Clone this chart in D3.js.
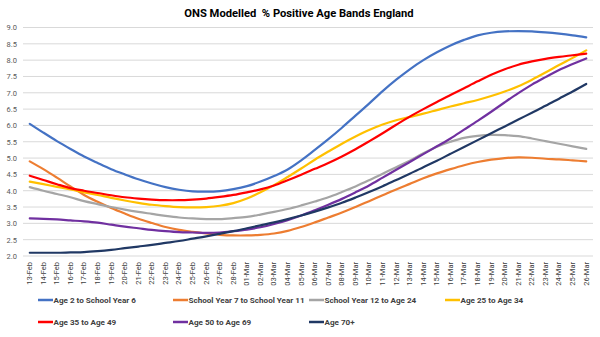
<!DOCTYPE html>
<html>
<head>
  <meta charset="UTF-8" />
  <title>ONS Modelled % Positive Age Bands England</title>
  <script src="https://d3js.org/d3.v7.min.js"></script>
  <style>
    body { margin: 0; background: #fff; }
    text { font-family: Roboto, "Open Sans", sans-serif; }
  </style>
</head>
<body>
  <div id="chart"></div>

  <script>
    // dates on the x axis (13-Feb .. 26-Mar)
    const dates = ["13-Feb","14-Feb","15-Feb","16-Feb","17-Feb","18-Feb","19-Feb","20-Feb","21-Feb","22-Feb",
      "23-Feb","24-Feb","25-Feb","26-Feb","27-Feb","28-Feb","01-Mar","02-Mar","03-Mar","04-Mar",
      "05-Mar","06-Mar","07-Mar","08-Mar","09-Mar","10-Mar","11-Mar","12-Mar","13-Mar","14-Mar",
      "15-Mar","16-Mar","17-Mar","18-Mar","19-Mar","20-Mar","21-Mar","22-Mar","23-Mar","24-Mar",
      "25-Mar","26-Mar"];

    const yTicks = [2.0, 2.5, 3.0, 3.5, 4.0, 4.5, 5.0, 5.5, 6.0, 6.5, 7.0, 7.5, 8.0, 8.5, 9.0];

    const seriesNames = ["Age 2 to School Year 6", "School Year 7 to School Year 11", "School Year 12 to Age 24",
      "Age 25 to Age 34", "Age 35 to Age 49", "Age 50 to Age 69", "Age 70+"];

    const age2toSY6 = [6.05,5.78,5.52,5.28,5.05,4.85,4.66,4.50,4.35,4.22,4.11,4.03,3.98,3.97,3.99,4.05,4.14,4.28,4.45,4.65,
      4.93,5.25,5.58,5.93,6.30,6.67,7.05,7.40,7.72,8.00,8.24,8.45,8.62,8.76,8.84,8.88,8.89,8.88,8.85,8.81,8.76,8.70];
    const sy7toSY11 = [4.90,4.66,4.40,4.13,3.87,3.66,3.47,3.30,3.14,3.01,2.89,2.80,2.74,2.69,2.65,2.63,2.63,2.65,2.69,2.77,
      2.89,3.03,3.18,3.33,3.50,3.68,3.86,4.04,4.21,4.38,4.53,4.66,4.78,4.88,4.95,5.00,5.02,5.01,4.98,4.96,4.93,4.90];
    const sy12to24 = [4.11,4.00,3.90,3.80,3.68,3.59,3.50,3.42,3.35,3.29,3.23,3.18,3.15,3.13,3.13,3.16,3.20,3.27,3.35,3.44,
      3.55,3.67,3.80,3.96,4.13,4.32,4.52,4.72,4.92,5.15,5.35,5.50,5.62,5.68,5.71,5.70,5.67,5.60,5.52,5.44,5.36,5.28];
    const age25to34 = [4.28,4.20,4.12,4.04,3.95,3.87,3.78,3.70,3.63,3.57,3.53,3.50,3.49,3.50,3.54,3.62,3.76,3.95,4.17,4.42,
      4.68,4.95,5.20,5.44,5.66,5.86,6.03,6.16,6.26,6.36,6.47,6.58,6.68,6.78,6.90,7.04,7.20,7.40,7.62,7.85,8.07,8.30];
    const age35to49 = [4.46,4.33,4.20,4.08,4.00,3.93,3.86,3.80,3.76,3.73,3.71,3.71,3.73,3.76,3.81,3.87,3.95,4.04,4.16,4.32,
      4.49,4.67,4.85,5.05,5.27,5.51,5.76,6.02,6.27,6.50,6.72,6.93,7.14,7.35,7.55,7.72,7.86,7.96,8.04,8.10,8.15,8.20];
    const age50to69 = [3.15,3.14,3.12,3.09,3.06,3.02,2.96,2.90,2.85,2.80,2.76,2.73,2.72,2.71,2.72,2.76,2.81,2.88,2.98,3.10,
      3.24,3.40,3.57,3.75,3.95,4.16,4.40,4.64,4.88,5.12,5.36,5.60,5.87,6.14,6.42,6.71,6.99,7.25,7.48,7.70,7.88,8.05];
    const age70plus = [2.10,2.10,2.10,2.11,2.12,2.15,2.19,2.24,2.29,2.34,2.40,2.46,2.53,2.60,2.68,2.76,2.85,2.94,3.03,3.13,
      3.24,3.36,3.49,3.63,3.79,3.96,4.14,4.33,4.52,4.72,4.92,5.13,5.34,5.55,5.76,5.97,6.18,6.39,6.60,6.82,7.04,7.27];

    const colors = ["#4472C4", "#ED7D31", "#A5A5A5", "#FFC000", "#FF0000", "#7030A0", "#203864"];

    const series = [age2toSY6, sy7toSY11, sy12to24, age25to34, age35to49, age50to69, age70plus]
      .map((vals, i) => ({ name: seriesNames[i], color: colors[i], values: vals }));

    drawChart();

    function drawChart() {
      const width = 600, height = 337;
      const svg = d3.select("#chart")
        .append("svg")
        .attr("width", width)
        .attr("height", height);

      // scales
      const xScale = d3.scaleBand()
        .domain(dates)
        .range([23, 593]);
      const yScale = d3.scaleLinear()
        .domain([2, 9])
        .range([256, 27.5]);

      const xPos = d => xScale(d) + xScale.bandwidth() / 2;

      // title
      svg.append("text")
        .attr("x", 299)
        .attr("y", 17)
        .attr("text-anchor", "middle")
        .attr("xml:space", "preserve")
        .style("font-size", "11.2px")
        .style("font-weight", "bold")
        .style("fill", "#000")
        .text("ONS Modelled  % Positive Age Bands England");

      // gridlines
      svg.append("g")
        .selectAll("line")
        .data(yTicks)
        .enter()
        .append("line")
        .attr("x1", 23)
        .attr("x2", 593)
        .attr("y1", d => yScale(d))
        .attr("y2", d => yScale(d))
        .style("stroke", "#D9D9D9")
        .style("stroke-width", 1);

      // y axis labels
      const yAxis = d3.axisLeft(yScale)
        .tickValues(yTicks)
        .tickFormat(d3.format(".1f"))
        .tickSize(0)
        .tickPadding(3);
      const yg = svg.append("g")
        .attr("transform", "translate(20,0)")
        .call(yAxis);
      yg.select(".domain").remove();
      yg.selectAll("text")
        .style("font-size", "7.5px")
        .style("fill", "#595959")
        .style("font-family", "Roboto, sans-serif");

      // x axis labels, rotated
      const xAxis = d3.axisBottom(xScale).tickSize(0).tickPadding(0);
      const xg = svg.append("g")
        .attr("transform", "translate(0,259)")
        .call(xAxis);
      xg.select(".domain").remove();
      xg.selectAll("text")
        .attr("transform", "rotate(-90)")
        .attr("x", -3)
        .attr("y", 0)
        .attr("dy", "0.32em")
        .style("text-anchor", "end")
        .style("font-size", "7.5px")
        .style("fill", "#404040")
        .style("font-family", "Roboto, sans-serif");

      // lines
      const line = d3.line()
        .x((d, i) => xPos(dates[i]))
        .y(d => yScale(d))
        .curve(d3.curveCatmullRom.alpha(0.5));

      svg.append("g")
        .selectAll("path")
        .data(series)
        .enter()
        .append("path")
        .attr("d", d => line(d.values))
        .style("fill", "none")
        .style("stroke", d => d.color)
        .style("stroke-width", 2.2)
        .style("stroke-linecap", "round");

      // legend (two rows)
      const legendX = [38, 173, 309, 445];
      const legendY = [300, 322];
      const legend = svg.append("g")
        .selectAll("g")
        .data(series)
        .enter()
        .append("g")
        .attr("transform", (d, i) => "translate(" + legendX[i % 4] + "," + legendY[Math.floor(i / 4)] + ")");

      legend.append("line")
        .attr("x1", 0)
        .attr("x2", 15)
        .attr("y1", 0)
        .attr("y2", 0)
        .style("stroke", d => d.color)
        .style("stroke-width", 2.5);

      legend.append("text")
        .attr("x", 15.5)
        .attr("y", 0)
        .attr("dy", "0.35em")
        .style("font-size", "8.1px")
        .style("font-weight", "bold")
        .style("fill", "#404040")
        .text(d => d.name);
    }
  </script>
</body>
</html>
